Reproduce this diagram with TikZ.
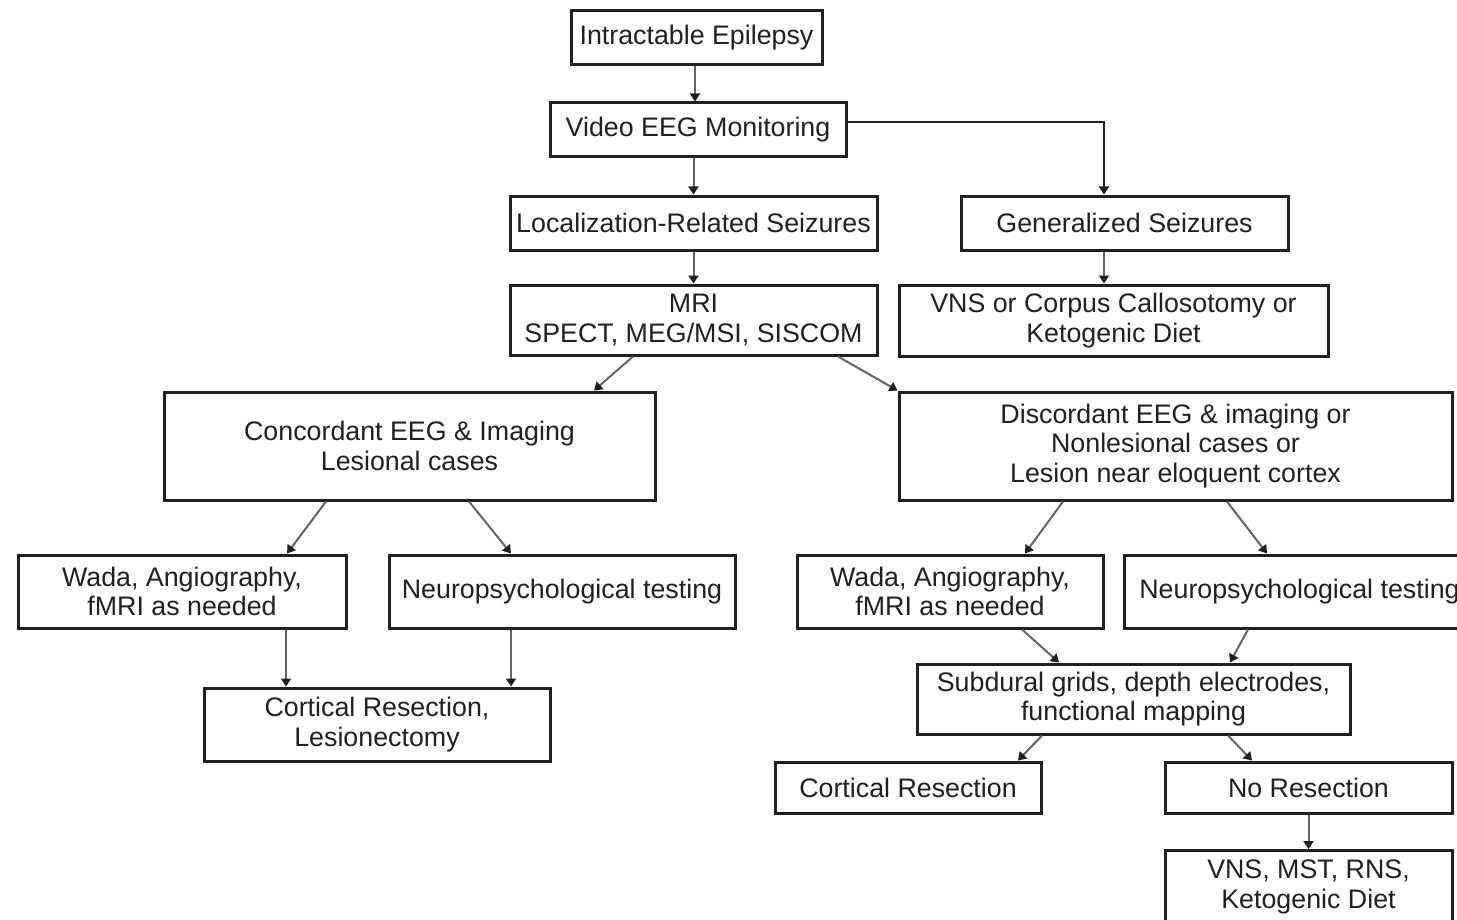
\documentclass[tikz,border=0pt]{standalone}
\usepackage{fontspec}
\setmainfont{Liberation Sans}
\usetikzlibrary{arrows.meta,calc}
\definecolor{ink}{RGB}{35,31,32}
\definecolor{conn}{RGB}{100,100,100}
\tikzset{
  box/.style={draw=ink, line width=1.5pt, inner sep=0pt, align=center, text=ink,
    font=\fontsize{13.4}{14.6}\selectfont},
  arr/.style={draw=conn, line width=1pt, -{Triangle[length=4pt,width=5pt,color=ink]}},
}
\begin{document}
\begin{tikzpicture}[x=0.5pt,y=-0.5pt]
\useasboundingbox (0,0) rectangle (1457,920);
\clip (0,0) rectangle (1457,920);
\fill[white] (0,0) rectangle (1457,920);

\node[box, minimum width=125.5pt, minimum height=27pt] (b1) at (696.5,38) {Intractable Epilepsy};
\node[box, minimum width=148pt, minimum height=27pt] (b2) at (698,130) {Video EEG Monitoring};
\node[box, minimum width=183.5pt, minimum height=27pt] (b3) at (693.5,223) {Localization-Related Seizures};
\node[box, minimum width=163.5pt, minimum height=27pt] (b4) at (1124.5,223) {Generalized Seizures};
\node[box, minimum width=183.5pt, minimum height=35pt] (b5) at (693.5,320) {MRI\\SPECT, MEG/MSI, SISCOM};
\node[box, minimum width=214.5pt, minimum height=35.5pt] (b6) at (1113.5,320.5) {VNS or Corpus Callosotomy or\\Ketogenic Diet};
\node[box, minimum width=245.5pt, minimum height=54pt] (b7) at (409.5,446) {Concordant EEG \& Imaging\\Lesional cases};
\node[box, minimum width=276.5pt, minimum height=54pt] (b8) at (1175.5,446) {Discordant EEG \& imaging or\\Nonlesional cases or\\Lesion near eloquent cortex};
\node[box, minimum width=164pt, minimum height=36.5pt] (b9) at (182,591.5) {Wada, Angiography,\\fMRI as needed};
\node[box, minimum width=173pt, minimum height=36.5pt] (b10) at (562,591.5) {Neuropsychological testing};
\node[box, minimum width=173pt, minimum height=36.5pt] (b11) at (377,724.5) {Cortical Resection,\\Lesionectomy};
\node[box, minimum width=153pt, minimum height=36.5pt] (b12) at (950,591.5) {Wada, Angiography,\\fMRI as needed};
\node[box, minimum width=175.5pt, minimum height=36.5pt] (b13) at (1299.5,591.5) {Neuropsychological testing};
\node[box, minimum width=216.5pt, minimum height=35pt] (b14) at (1133.5,699) {Subdural grids, depth electrodes,\\functional mapping};
\node[box, minimum width=133pt, minimum height=25.5pt] (b15) at (908,787.5) {Cortical Resection};
\node[box, minimum width=143.5pt, minimum height=25.5pt] (b16) at (1308.5,787.5) {No Resection};
\node[box, minimum width=143.5pt, minimum height=36.5pt] (b17) at (1308.5,887) {VNS, MST, RNS,\\Ketogenic Diet};

% connectors
\draw[arr] ($(b1.south)+(-1.5,0)$) coordinate (t1) -- (t1 |- b2.north);
\draw[arr] (b3.north |- b2.south) -- (b3.north);
\draw[arr] (b3.south) -- (b5.north);
\draw[arr, draw=ink] ([yshift=4pt]b2.east) -| ($(b4.north)+(-20.5,0)$);
\draw[arr] ($(b4.south)+(-20.5,0)$) coordinate (t4) -- (t4 |- b6.north);
\draw[arr] ($(b5.south)+(-60.5,0)$) -- ($(b7.north)+(184.5,0)$);
\draw[arr] ($(b5.south)+(144.5,0)$) -- (b8.north west);
\draw[arr] ($(b7.south)+(-83.5,0)$) -- ($(b9.north)+(105,0)$);
\draw[arr] ($(b7.south)+(59.5,0)$) -- ($(b10.north)+(-51,0)$);
\draw[arr] ($(b9.south)+(104,0)$) coordinate (t9) -- (t9 |- b11.north);
\draw[arr] ($(b10.south)+(-51,0)$) coordinate (t10) -- (t10 |- b11.north);
\draw[arr] ($(b8.south)+(-112.5,0)$) -- ($(b12.north)+(75,0)$);
\draw[arr] ($(b8.south)+(51.5,0)$) -- ($(b13.north)+(-32.5,0)$);
\draw[arr] ($(b12.south)+(72,0)$) -- ($(b14.north)+(-74.5,0)$);
\draw[arr] ($(b13.south)+(-51.5,0)$) -- ($(b14.north)+(96.5,0)$);
\draw[arr] ($(b14.south)+(-91.5,0)$) -- ($(b15.north)+(110,0)$);
\draw[arr] ($(b14.south)+(94.5,0)$) -- ($(b16.north)+(-56.5,0)$);
\draw[arr] (b16.south) -- (b17.north);
\end{tikzpicture}
\end{document}
